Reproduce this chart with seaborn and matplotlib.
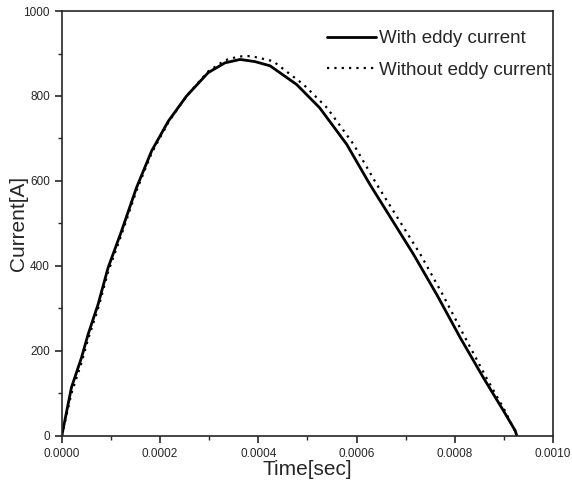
import matplotlib
matplotlib.use("Agg")
import matplotlib.pyplot as plt
from matplotlib.ticker import MultipleLocator, FormatStrFormatter
import seaborn as sns
import pandas as pd

time_with = [0, 0.0000197, 0.0000401, 0.0000536, 0.000074, 0.0000943, 0.0001216,
             0.000152, 0.000183, 0.000217, 0.000254, 0.000298, 0.000332, 0.000363,
             0.000393, 0.000424, 0.000478, 0.000525, 0.000580, 0.000627, 0.000661,
             0.000716, 0.000763, 0.000811, 0.000858, 0.000899, 0.000923, 0.000926]
current_with = [0, 114, 184, 239, 310, 396, 482, 584, 671, 741, 800, 855, 878, 886,
                881, 871, 827, 772, 686, 592, 529, 427, 333, 231, 137, 59, 12, 0]

time_without = [0, 0.0000197, 0.0000401, 0.0000536, 0.000074, 0.0000943, 0.0001216,
                0.000152, 0.000183, 0.000217, 0.000254, 0.000298, 0.000332, 0.000360,
                0.000385, 0.000430, 0.000492, 0.000540, 0.000594, 0.000641, 0.000675,
                0.000730, 0.000775, 0.000821, 0.000864, 0.000902, 0.000927]
current_without = [0, 100, 172, 228, 300, 386, 474, 577, 666, 738, 800, 858, 884, 893,
                   894, 882, 827, 772, 686, 592, 529, 427, 333, 231, 137, 59, 0]

labels = ["With eddy current", "Without eddy current"]

sns.set_style("ticks")
plt.rcParams['font.family'] = ['Liberation Sans', 'DejaVu Sans']

fig = plt.figure(figsize=(5.72, 5.01), dpi=100)
ax = fig.add_axes([0.108, 0.130, 0.859, 0.848])

df1 = pd.DataFrame({"t": time_with, "I": current_with})
df2 = pd.DataFrame({"t": time_without, "I": current_without})
sns.lineplot(data=df1, x="t", y="I", ax=ax, color="black", linewidth=2.0,
             label=labels[0], sort=False)
sns.lineplot(data=df2, x="t", y="I", ax=ax, color="black", linewidth=1.6,
             linestyle=(0, (1, 2.3)), label=labels[1], sort=False)

ax.set_xlim(0, 0.001)
ax.set_ylim(0, 1000)
ax.xaxis.set_major_locator(MultipleLocator(0.0002))
ax.xaxis.set_minor_locator(MultipleLocator(0.0001))
ax.yaxis.set_major_locator(MultipleLocator(200))
ax.yaxis.set_minor_locator(MultipleLocator(100))
ax.xaxis.set_major_formatter(FormatStrFormatter("%.4f"))
ax.tick_params(which="major", direction="out", length=5, width=1.2, labelsize=8.5)
ax.tick_params(which="minor", direction="out", length=3, width=1)
for s in ax.spines.values():
    s.set_linewidth(1.2)
    s.set_visible(True)

ax.set_xlabel("Time[sec]", fontsize=15, labelpad=0)
ax.set_ylabel("Current[A]", fontsize=15, labelpad=-3)

leg = ax.legend(loc="upper left", bbox_to_anchor=(0.529, 0.968), frameon=False,
                fontsize=13.5, handlelength=2.6, borderaxespad=0.0, borderpad=0.3,
                labelspacing=0.75, handletextpad=0.15)

fig.savefig("out.png", dpi=100)
